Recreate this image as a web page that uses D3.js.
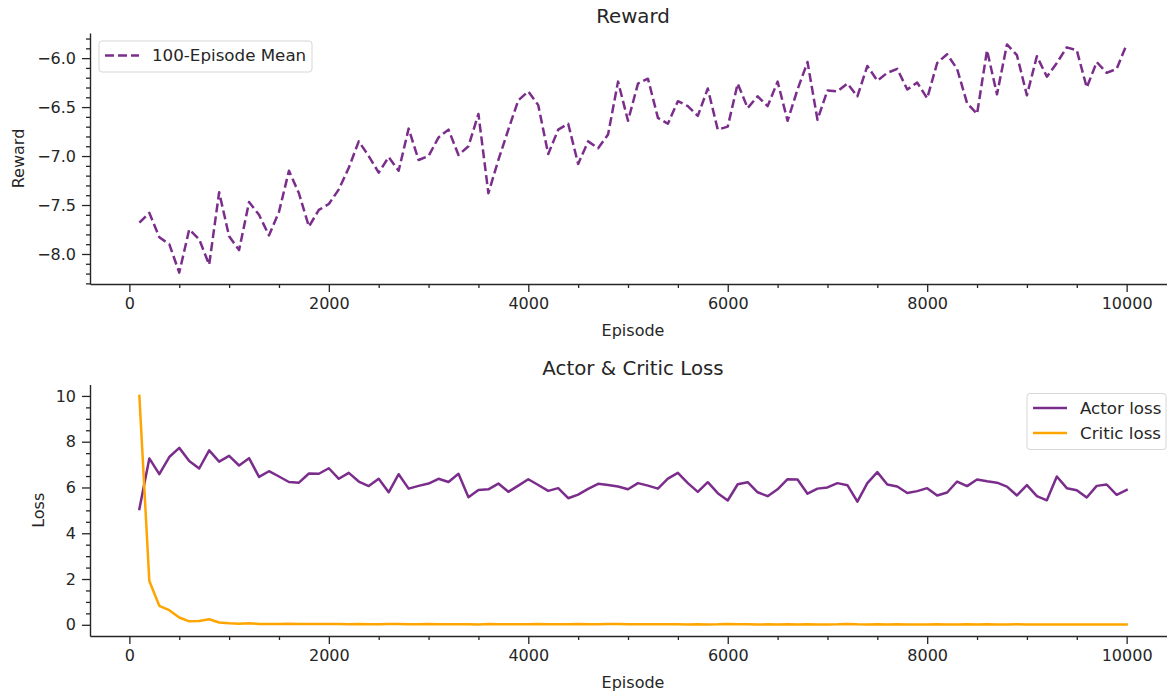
<!DOCTYPE html>
<html>
<head>
<meta charset="utf-8">
<script src="https://cdn.jsdelivr.net/npm/d3@7"></script>
<style>
  html, body { margin: 0; padding: 0; background: #fff; }
  svg { display: block; font-family: "DejaVu Sans", sans-serif; }
</style>
</head>
<body>
<svg id="chart" width="1167" height="696"></svg>
<script>
// ---------------- DATA ----------------
const episodes = [100,200,300,400,500,600,700,800,900,1000,1100,1200,1300,1400,1500,1600,1700,1800,1900,2000,
  2100,2200,2300,2400,2500,2600,2700,2800,2900,3000,3100,3200,3300,3400,3500,3600,3700,3800,3900,4000,
  4100,4200,4300,4400,4500,4600,4700,4800,4900,5000,5100,5200,5300,5400,5500,5600,5700,5800,5900,6000,
  6100,6200,6300,6400,6500,6600,6700,6800,6900,7000,7100,7200,7300,7400,7500,7600,7700,7800,7900,8000,
  8100,8200,8300,8400,8500,8600,8700,8800,8900,9000,9100,9200,9300,9400,9500,9600,9700,9800,9900,10000];

const rewardMean = [-7.68,-7.58,-7.83,-7.90,-8.19,-7.75,-7.85,-8.11,-7.37,-7.82,
  -7.96,-7.47,-7.60,-7.81,-7.57,-7.15,-7.38,-7.72,-7.55,-7.49,
  -7.34,-7.12,-6.85,-7.00,-7.17,-7.01,-7.15,-6.72,-7.04,-7.00,
  -6.81,-6.73,-6.99,-6.90,-6.57,-7.38,-7.04,-6.73,-6.43,-6.34,
  -6.48,-6.98,-6.73,-6.67,-7.08,-6.85,-6.92,-6.78,-6.24,-6.64,
  -6.26,-6.21,-6.61,-6.67,-6.44,-6.49,-6.59,-6.31,-6.73,-6.70,
  -6.26,-6.51,-6.39,-6.49,-6.24,-6.64,-6.32,-6.04,-6.63,-6.33,
  -6.34,-6.26,-6.39,-6.08,-6.23,-6.15,-6.11,-6.32,-6.25,-6.41,
  -6.05,-5.96,-6.11,-6.46,-6.57,-5.92,-6.37,-5.86,-5.97,-6.38,
  -5.98,-6.19,-6.05,-5.89,-5.92,-6.30,-6.04,-6.15,-6.11,-5.86];

const actorLoss = [5.06,7.27,6.58,7.33,7.73,7.16,6.83,7.62,7.13,7.38,
  6.96,7.28,6.46,6.71,6.48,6.24,6.21,6.61,6.60,6.84,
  6.38,6.64,6.26,6.06,6.38,5.79,6.58,5.95,6.07,6.17,
  6.38,6.24,6.60,5.57,5.89,5.92,6.17,5.81,6.08,6.36,
  6.11,5.85,5.97,5.53,5.69,5.94,6.16,6.11,6.04,5.92,
  6.19,6.08,5.95,6.39,6.64,6.19,5.81,6.23,5.75,5.43,
  6.14,6.23,5.79,5.62,5.92,6.36,6.35,5.73,5.95,6.00,
  6.19,6.10,5.38,6.19,6.67,6.13,6.04,5.76,5.84,5.97,
  5.65,5.78,6.26,6.06,6.35,6.27,6.21,6.04,5.65,6.10,
  5.62,5.44,6.48,5.97,5.88,5.56,6.07,6.13,5.68,5.89];

const criticLoss = [10.0,1.91,0.83,0.64,0.32,0.15,0.17,0.24,0.10,0.07,
  0.05,0.07,0.04,0.04,0.04,0.05,0.04,0.04,0.03,0.03,
  0.03,0.02,0.03,0.02,0.02,0.03,0.04,0.02,0.02,0.04,
  0.02,0.02,0.02,0.02,0.01,0.03,0.02,0.02,0.02,0.02,
  0.03,0.02,0.02,0.02,0.04,0.02,0.02,0.04,0.03,0.02,
  0.02,0.02,0.02,0.02,0.02,0.01,0.02,0.01,0.02,0.04,
  0.02,0.02,0.01,0.02,0.01,0.02,0.01,0.02,0.01,0.01,
  0.02,0.04,0.02,0.01,0.02,0.01,0.02,0.01,0.01,0.01,
  0.02,0.01,0.01,0.02,0.01,0.02,0.01,0.01,0.02,0.01,
  0.01,0.01,0.01,0.01,0.01,0.01,0.01,0.01,0.01,0.01];

const xTicks = [0,2000,4000,6000,8000,10000];
const xMinorTicks = [500,1000,1500,2500,3000,3500,4500,5000,5500,6500,7000,7500,8500,9000,9500];
const rewardTicks = [-8.0,-7.5,-7.0,-6.5,-6.0];
const rewardMinorTicks = [-8.3,-8.2,-8.1,-7.9,-7.8,-7.7,-7.6,-7.4,-7.3,-7.2,-7.1,-6.9,-6.8,-6.7,-6.6,-6.4,-6.3,-6.2,-6.1,-5.9,-5.8];
const lossTicks = [0,2,4,6,8,10];
const lossMinorTicks = [0.5,1,1.5,2.5,3,3.5,4.5,5,5.5,6.5,7,7.5,8.5,9,9.5];

const titles = ["Reward", "Actor & Critic Loss"];
const rewardLegend = ["100-Episode Mean"];
const lossLegend = ["Actor loss", "Critic loss"];

// ---------------- STYLE ----------------
const PURPLE = "#7b2d8b";
const ORANGE = "#ffa500";
const INK = "#262626";
const FS = 16;
const LEG_FS = 16.7;

const svg = d3.select("#chart");

function padded(lo, hi) { const p = (hi - lo) * 0.05; return [lo - p, hi + p]; }

const xDom = padded(d3.min(episodes), d3.max(episodes));
const L = 90, R = 1176;
const x = d3.scaleLinear().domain(xDom).range([L, R]);

function drawPanel(cfg) {
  const g = svg.append("g");
  const y = d3.scaleLinear().domain(cfg.yDom).range([cfg.bottom, cfg.top]);

  // minor ticks
  g.append("g").attr("transform", `translate(0,${cfg.bottom})`)
    .call(d3.axisBottom(x).tickValues(xMinorTicks).tickSize(4).tickFormat(""))
    .call(s => s.select(".domain").remove());
  g.append("g").attr("transform", `translate(${L},0)`)
    .call(d3.axisLeft(y).tickValues(cfg.yMinor.filter(v => v >= cfg.yDom[0] && v <= cfg.yDom[1])).tickSize(4).tickFormat(""))
    .call(s => s.select(".domain").remove());

  // major axes
  g.append("g").attr("transform", `translate(0,${cfg.bottom})`)
    .call(d3.axisBottom(x).tickValues(xTicks).tickSize(8).tickSizeOuter(0).tickPadding(6).tickFormat(d3.format("d")));
  g.append("g").attr("transform", `translate(${L},0)`)
    .call(d3.axisLeft(y).tickValues(cfg.yTicks).tickSize(8).tickSizeOuter(0).tickPadding(6).tickFormat(cfg.fmt));

  g.selectAll(".tick line").attr("stroke", INK).attr("stroke-width", 1.3);
  g.selectAll(".domain").attr("stroke", INK).attr("stroke-width", 1.4);
  g.selectAll(".tick text").attr("fill", INK).style("font-size", FS + "px").style("font-family", "DejaVu Sans");

  // axis labels
  g.append("text").attr("x", x(5050)).attr("y", cfg.bottom + 52)
    .attr("text-anchor", "middle").attr("fill", INK).style("font-size", FS + "px").text("Episode");
  g.append("text").attr("transform", `translate(${cfg.ylabelX},${(cfg.top + cfg.bottom) / 2}) rotate(-90)`)
    .attr("text-anchor", "middle").attr("fill", INK).style("font-size", FS + "px").text(cfg.ylabel);
  // title
  g.append("text").attr("x", (L + R) / 2).attr("y", cfg.top - 10)
    .attr("text-anchor", "middle").attr("fill", INK).style("font-size", "19.8px").text(cfg.title);

  // lines
  cfg.series.forEach(s => {
    const line = d3.line().x((d, i) => x(episodes[i])).y(d => y(d));
    g.append("path").datum(s.values)
      .attr("d", line).attr("fill", "none")
      .attr("stroke", s.color).attr("stroke-width", s.width)
      .attr("stroke-dasharray", s.dash || null)
      .attr("stroke-linejoin", "round").attr("stroke-linecap", s.dash ? "butt" : "square");
  });

  // legend
  const lg = cfg.legend;
  g.append("rect").attr("x", lg.x).attr("y", lg.y).attr("width", lg.w).attr("height", lg.h)
    .attr("rx", 3).attr("fill", "#fff").attr("fill-opacity", 0.8)
    .attr("stroke", "#d6d6d6").attr("stroke-width", 1);
  cfg.series.forEach((s, i) => {
    const yy = lg.y + 14.5 + i * 25;
    g.append("line").attr("x1", lg.x + 6).attr("x2", lg.x + 40).attr("y1", yy).attr("y2", yy)
      .attr("stroke", s.color).attr("stroke-width", s.width).attr("stroke-dasharray", s.dash || null);
    g.append("text").attr("x", lg.x + 53).attr("y", yy + 5.8).attr("fill", INK)
      .style("font-size", LEG_FS + "px").text(s.label);
  });
}

drawPanel({
  top: 33, bottom: 284,
  yDom: padded(d3.min(rewardMean), d3.max(rewardMean)),
  yTicks: rewardTicks, yMinor: rewardMinorTicks, fmt: d3.format(".1f"),
  ylabel: "Reward", ylabelX: 24, title: titles[0],
  series: [{ values: rewardMean, color: PURPLE, width: 2.5, dash: "9,4", label: rewardLegend[0] }],
  legend: { x: 99, y: 41, w: 213, h: 31 }
});

drawPanel({
  top: 384.5, bottom: 636,
  yDom: padded(Math.min(d3.min(actorLoss), d3.min(criticLoss)), Math.max(d3.max(actorLoss), d3.max(criticLoss))),
  yTicks: lossTicks, yMinor: lossMinorTicks, fmt: d3.format("d"),
  ylabel: "Loss", ylabelX: 44, title: titles[1],
  series: [
    { values: actorLoss, color: PURPLE, width: 2.5, label: lossLegend[0] },
    { values: criticLoss, color: ORANGE, width: 2.5, label: lossLegend[1] }
  ],
  legend: { x: 1027, y: 393.5, w: 139, h: 56 }
});
</script>
</body>
</html>
